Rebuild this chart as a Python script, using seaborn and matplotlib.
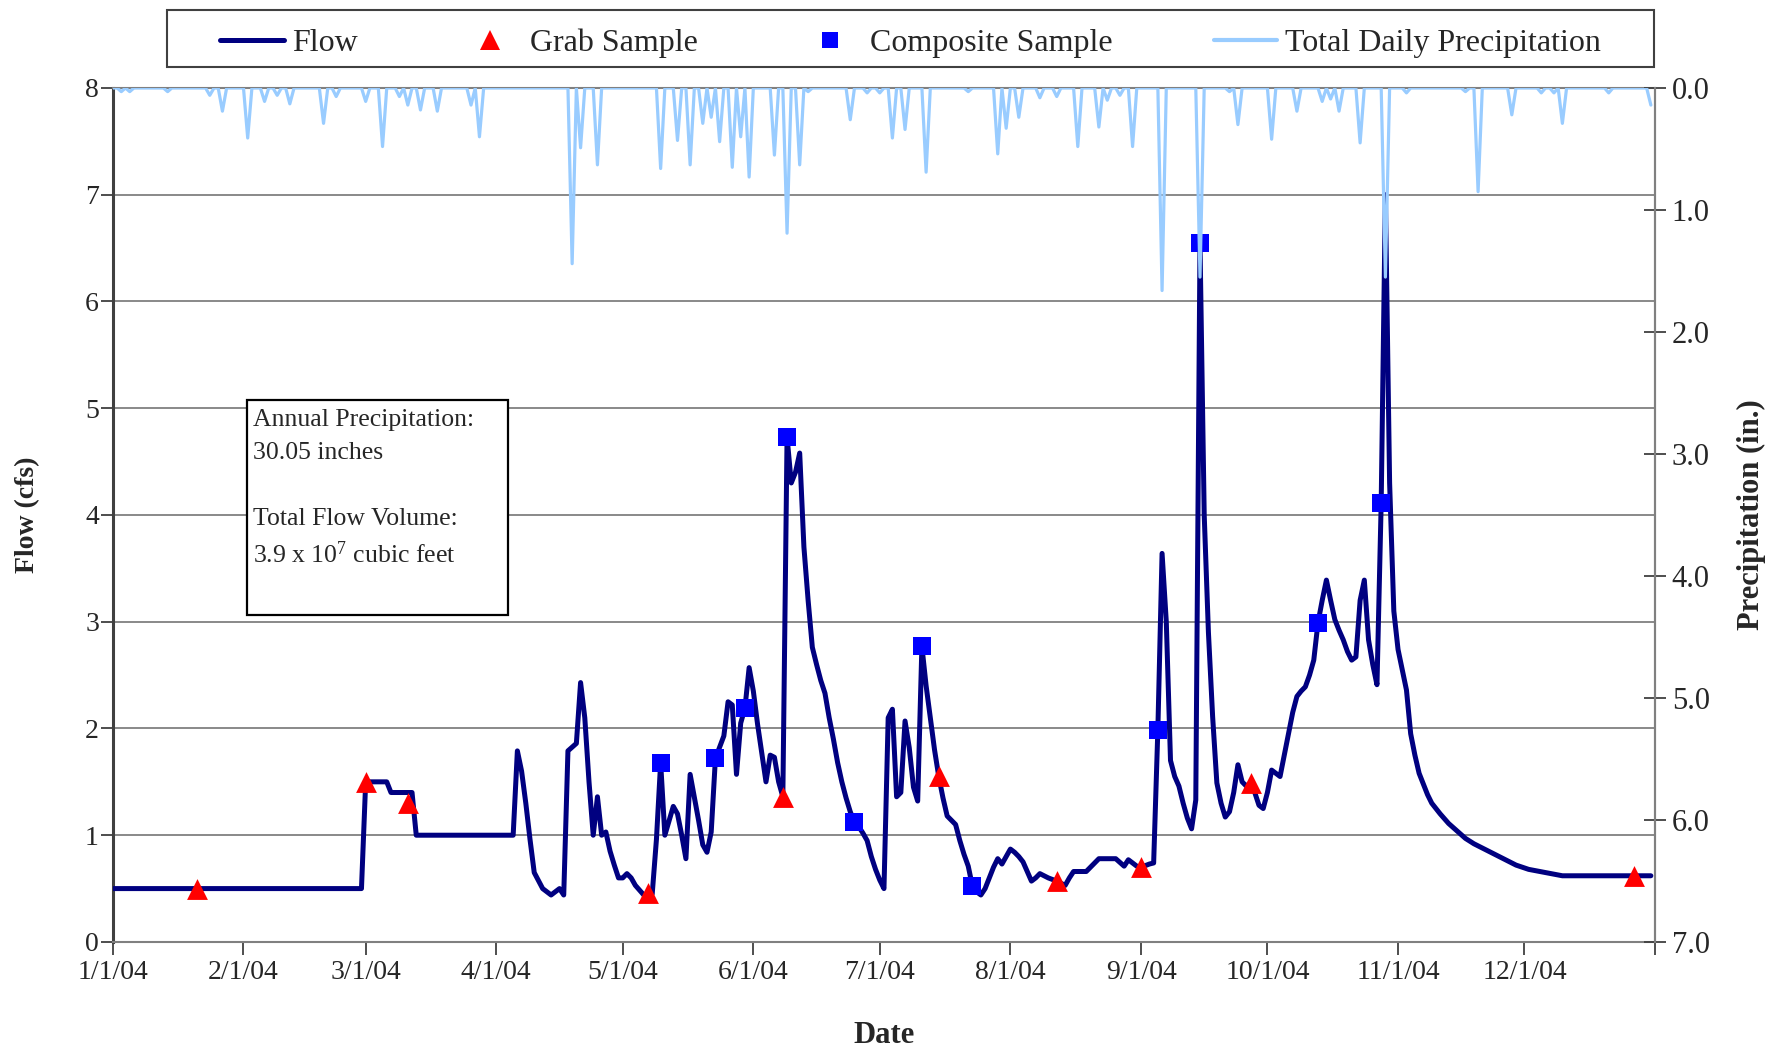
import numpy as np
import pandas as pd
import matplotlib
matplotlib.use("Agg")
import matplotlib.pyplot as plt
import matplotlib.dates as mdates
from matplotlib.patches import Rectangle
from matplotlib.lines import Line2D
from matplotlib.ticker import FuncFormatter
import seaborn as sns

# ---------------------------------------------------------------------------
# Data (day 0 = 1/1/04)
# ---------------------------------------------------------------------------
flow_day = [0, 59, 60, 65, 66, 71, 72, 95, 96, 97, 98, 99, 100, 102, 104, 106,
            107, 108, 110, 111, 112, 113, 114, 115, 116, 117, 118, 119, 120,
            121, 122, 123, 124, 126, 127, 128, 129, 130, 131, 133, 134, 135,
            136, 137, 139, 140, 141, 142, 143, 145, 146, 147, 148, 149, 150,
            151, 152, 153, 155, 156, 157, 158, 159, 160, 161, 162, 163, 164,
            165, 166, 167, 168, 169, 170, 171, 172, 173, 174, 175, 176, 177,
            178, 179, 180, 181, 182, 183, 184, 185, 186, 187, 188, 189, 190,
            191, 192, 193, 194, 195, 196, 197, 198, 199, 200, 201, 202, 203,
            204, 205, 206, 207, 208, 209, 210, 211, 212, 213, 214, 215, 216,
            217, 218, 219, 220, 221, 222, 224, 226, 227, 228, 231, 232, 234,
            238, 240, 241, 242, 243, 244, 246, 247, 248, 249, 250, 251, 252,
            253, 254, 255, 256, 257, 258, 259, 260, 261, 262, 263, 264, 265,
            266, 267, 268, 269, 270, 271, 272, 273, 274, 275, 276, 277, 278,
            279, 280, 281, 282, 283, 284, 285, 286, 287, 288, 289, 290, 291,
            292, 293, 294, 295, 296, 297, 298, 299, 300, 301, 302, 303, 304,
            305, 306, 307, 308, 309, 310, 311, 312, 313, 315, 317, 319, 321,
            323, 325, 327, 329, 331, 333, 336, 340, 344, 365]
flow_cfs = [0.5, 0.5, 1.5, 1.5, 1.4, 1.4, 1.0, 1.0, 1.79, 1.6, 1.3, 0.96, 0.65,
            0.5, 0.44, 0.5, 0.44, 1.79, 1.86, 2.43, 2.1, 1.5, 1.0, 1.36, 1.0,
            1.03, 0.85, 0.72, 0.6, 0.6, 0.64, 0.6, 0.53, 0.44, 0.44, 0.45,
            0.96, 1.68, 1.0, 1.27, 1.2, 1.0, 0.78, 1.57, 1.14, 0.91, 0.84,
            1.03, 1.72, 1.93, 2.25, 2.22, 1.57, 2.05, 2.19, 2.57, 2.35, 2.04,
            1.5, 1.75, 1.73, 1.5, 1.36, 4.73, 4.3, 4.4, 4.58, 3.7, 3.2, 2.76,
            2.6, 2.45, 2.33, 2.1, 1.9, 1.68, 1.5, 1.35, 1.22, 1.12, 1.08,
            1.02, 0.95, 0.8, 0.68, 0.58, 0.5, 2.1, 2.18, 1.36, 1.4, 2.07,
            1.82, 1.45, 1.32, 2.77, 2.4, 2.1, 1.8, 1.55, 1.35, 1.18, 1.14,
            1.1, 0.95, 0.82, 0.71, 0.52, 0.47, 0.44, 0.5, 0.6, 0.7, 0.78,
            0.73, 0.8, 0.87, 0.84, 0.8, 0.75, 0.66, 0.57, 0.6, 0.64, 0.62,
            0.6, 0.57, 0.53, 0.6, 0.66, 0.66, 0.7, 0.78, 0.78, 0.71, 0.77,
            0.74, 0.71, 0.70, 0.73, 0.74, 1.99, 3.64, 3.0, 1.7, 1.55, 1.46,
            1.3, 1.16, 1.06, 1.33, 6.55, 4.0, 2.9, 2.11, 1.49, 1.3, 1.17,
            1.22, 1.4, 1.66, 1.5, 1.46, 1.49, 1.4, 1.28, 1.25, 1.4, 1.61,
            1.58, 1.55, 1.75, 1.95, 2.15, 2.3, 2.35, 2.39, 2.5, 2.64, 2.99,
            3.2, 3.39, 3.2, 3.02, 2.92, 2.83, 2.72, 2.64, 2.67, 3.2, 3.39,
            2.83, 2.6, 2.41, 4.11, 7.0, 4.3, 3.1, 2.74, 2.55, 2.36, 1.95,
            1.75, 1.58, 1.48, 1.38, 1.3, 1.2, 1.11, 1.04, 0.97, 0.92, 0.88,
            0.84, 0.8, 0.76, 0.72, 0.68, 0.65, 0.62, 0.62]

grab_day = [20, 60, 70, 127, 159, 196, 224, 244, 270, 361]
grab_cfs = [0.5, 1.5, 1.3, 0.46, 1.36, 1.55, 0.57, 0.70, 1.49, 0.62]

comp_day = [130, 143, 150, 160, 176, 192, 204, 248, 258, 286, 301]
comp_cfs = [1.68, 1.72, 2.19, 4.73, 1.12, 2.77, 0.52, 1.99, 6.55, 2.99, 4.11]

# Days with measurable rain and the daily total (in.)
precip_day = [2, 4, 13, 23, 26, 32, 36, 39, 42, 50, 53, 60, 64, 68, 70, 73,
              77, 85, 87, 109, 111, 115, 130, 134, 137, 140, 142, 144, 147,
              149, 151, 157, 160, 163, 165, 175, 179, 182, 185, 188, 193, 203,
              210, 212, 215, 220, 224, 229, 234, 236, 239, 242, 249, 258, 265,
              267, 275, 281, 287, 289, 291, 296, 302, 307, 321, 324, 332, 339,
              342, 344, 355, 365]
precip_in = [0.03, 0.03, 0.03, 0.06, 0.19, 0.41, 0.11, 0.06, 0.13, 0.29, 0.07,
             0.11, 0.48, 0.07, 0.14, 0.18, 0.19, 0.14, 0.40, 1.44, 0.49, 0.63,
             0.66, 0.43, 0.63, 0.29, 0.24, 0.44, 0.65, 0.40, 0.73, 0.55, 1.19,
             0.63, 0.03, 0.26, 0.04, 0.04, 0.41, 0.34, 0.69, 0.03, 0.54, 0.33,
             0.24, 0.08, 0.07, 0.48, 0.32, 0.10, 0.06, 0.48, 1.66, 1.55, 0.03,
             0.30, 0.42, 0.19, 0.11, 0.09, 0.19, 0.45, 1.55, 0.04, 0.03, 0.85,
             0.22, 0.04, 0.04, 0.29, 0.04, 0.14]

flow_ticks = [0, 1, 2, 3, 4, 5, 6, 7, 8]
precip_ticks = [0.0, 1.0, 2.0, 3.0, 4.0, 5.0, 6.0, 7.0]

legend_labels = ["Flow", "Grab Sample", "Composite Sample",
                 "Total Daily Precipitation"]
note_lines = ["Annual Precipitation:", "30.05 inches", "Total Flow Volume:",
              r"3.9 x 10$^{7}$ cubic feet"]

# ---------------------------------------------------------------------------
# Frames
# ---------------------------------------------------------------------------
start = pd.Timestamp("2004-01-01")
end = pd.Timestamp("2005-01-01")


def to_dates(days):
    return start + pd.to_timedelta(np.asarray(days), unit="D")


flow_df = pd.DataFrame({"date": to_dates(flow_day), "flow": flow_cfs})
grab_df = pd.DataFrame({"date": to_dates(grab_day), "flow": grab_cfs})
comp_df = pd.DataFrame({"date": to_dates(comp_day), "flow": comp_cfs})

daily = np.zeros(366)
daily[np.asarray(precip_day)] = precip_in
precip_df = pd.DataFrame({"date": to_dates(np.arange(366)), "precip": daily})

# ---------------------------------------------------------------------------
# Style
# ---------------------------------------------------------------------------
sns.set_style("white")
plt.rcParams["font.family"] = ["Liberation Serif", "DejaVu Serif"]
plt.rcParams["mathtext.fontset"] = "custom"
plt.rcParams["mathtext.rm"] = "Liberation Serif"
plt.rcParams["mathtext.it"] = "Liberation Serif:italic"
plt.rcParams["mathtext.bf"] = "Liberation Serif:bold"

FLOW_C = "#000080"
PRECIP_C = "#99CCFF"
GRAB_C = "#FF0000"
COMP_C = "#0000FF"
GRID_C = "#808080"
AXIS_C = "#404040"
TICK_FS = 20

W, H = 1769.0, 1050.0
fig = plt.figure(figsize=(W / 100, H / 100), dpi=100)
fig.patch.set_facecolor("white")
ax = fig.add_axes([0.0638, 0.1029, 0.8718, 0.8133])
ax.set_facecolor("white")

sns.lineplot(data=flow_df, x="date", y="flow", ax=ax, color=FLOW_C,
             linewidth=3.6, sort=True, estimator=None, zorder=3)
sns.scatterplot(data=grab_df, x="date", y="flow", ax=ax, color=GRAB_C,
                marker="^", s=15 ** 2, linewidth=0, zorder=4)
sns.scatterplot(data=comp_df, x="date", y="flow", ax=ax, color=COMP_C,
                marker="s", s=13 ** 2, linewidth=0, zorder=4)

ax.set_xlim(start, end)
ax.set_ylim(0, 8)
ax.set_yticks(flow_ticks)
ax.yaxis.grid(True, color=GRID_C, linewidth=1.3)
ax.xaxis.grid(False)
ax.set_axisbelow(True)

ax.xaxis.set_major_locator(mdates.MonthLocator())


def date_label(x, pos):
    d = mdates.num2date(x)
    if d.year > 2004:
        return ""
    return f"{d.month}/{d.day}/{d.strftime('%y')}"


ax.xaxis.set_major_formatter(FuncFormatter(date_label))
ax.tick_params(axis="x", direction="out", length=9, width=1.3, color=AXIS_C,
               labelsize=TICK_FS, pad=4, bottom=True)
ax.tick_params(axis="y", direction="out", length=9, width=1.3, color=AXIS_C,
               labelsize=TICK_FS, pad=1, left=True)

for sp in ax.spines.values():
    sp.set_visible(True)
    sp.set_color(GRID_C)
    sp.set_linewidth(1.5)
ax.spines["left"].set_color(AXIS_C)
ax.spines["left"].set_linewidth(2.2)

ax.set_xlabel("Date", fontsize=22, fontweight="bold")
ax.set_ylabel("Flow (cfs)", fontsize=20, fontweight="bold")
ax.xaxis.set_label_coords(0.5, -0.092)
ax.yaxis.set_label_coords(-0.047, 0.5)

# Precipitation on an inverted secondary axis, drawn above the flow series
ax2 = ax.twinx()
sns.lineplot(data=precip_df, x="date", y="precip", ax=ax2, color=PRECIP_C,
             linewidth=2.3, sort=True, estimator=None)
ax2.set_ylim(7, 0)
ax2.set_yticks(precip_ticks)
ax2.yaxis.set_major_formatter(FuncFormatter(lambda v, p: f"{v:.1f}"))
ax2.tick_params(axis="y", direction="inout", length=16, width=1.3,
                color=AXIS_C, labelsize=TICK_FS + 2, pad=4, right=True)
ax2.set_ylabel("Precipitation (in.)", fontsize=22, fontweight="bold")
ax2.yaxis.set_label_coords(1.053, 0.5)
ax2.set_xlim(start, end)
for sp in ax2.spines.values():
    sp.set_visible(False)
ax2.spines["right"].set_visible(True)
ax2.spines["right"].set_color(GRID_C)
ax2.spines["right"].set_linewidth(1.5)

# Legend across the top, inside its own frame
fig.add_artist(Rectangle((167 / W, 1 - 67 / H), (1654 - 167) / W, 57 / H,
                         transform=fig.transFigure, facecolor="white",
                         edgecolor=AXIS_C, linewidth=1.5, zorder=1))
handles = [
    Line2D([], [], color=FLOW_C, linewidth=3.6),
    Line2D([], [], color=GRAB_C, marker="^", linestyle="none", markersize=14,
           markeredgewidth=0),
    Line2D([], [], color=COMP_C, marker="s", linestyle="none", markersize=12,
           markeredgewidth=0),
    Line2D([], [], color=PRECIP_C, linewidth=3.0),
]
leg = fig.legend(handles, legend_labels, loc="center", ncol=4,
                 bbox_to_anchor=((167 + 1654) / 2 / W, 1 - 43 / H),
                 bbox_transform=fig.transFigure, fontsize=23, frameon=False,
                 handlelength=2.0, handletextpad=0.25, columnspacing=3.15,
                 borderpad=0.0, borderaxespad=0.0)
leg.set_zorder(2)

# Annual summary box
fig.add_artist(Rectangle((247 / W, 1 - 615 / H), (508 - 247) / W, (615 - 400) / H,
                         transform=fig.transFigure, facecolor="white",
                         edgecolor="black", linewidth=1.6, zorder=5))
for txt, base in zip(note_lines, [426, 459, 525, 563]):
    fig.text(253 / W, 1 - base / H, txt, fontsize=18.5, va="baseline",
             ha="left", zorder=6)

fig.savefig("out.png", dpi=100, facecolor="white")
